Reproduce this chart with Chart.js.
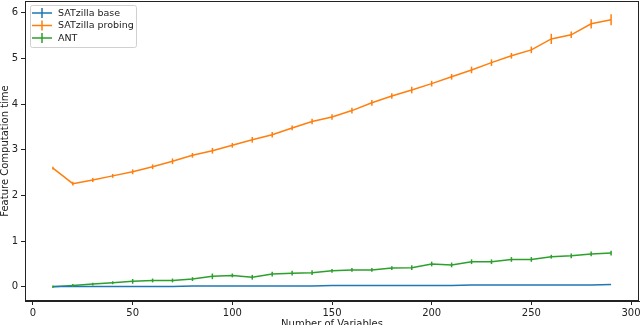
<!DOCTYPE html>
<html>
<head>
<meta charset="utf-8">
<script src="https://cdn.jsdelivr.net/npm/chart.js@4"></script>
<style>
  body { margin: 0; background: #fff; }
  canvas { display: block; }
</style>
</head>
<body>
<canvas id="grafico" width="640" height="325"></canvas>
<script>
// dados
const variaveis = [10, 20, 30, 40, 50, 60, 70, 80, 90, 100, 110, 120, 130, 140, 150,
  160, 170, 180, 190, 200, 210, 220, 230, 240, 250, 260, 270, 280, 290];

const baseValores = [0.01, 0.01, 0.01, 0.01, 0.01, 0.01, 0.01, 0.02, 0.02, 0.02, 0.02, 0.02, 0.02, 0.02, 0.03,
  0.03, 0.03, 0.03, 0.03, 0.03, 0.03, 0.04, 0.04, 0.04, 0.04, 0.04, 0.04, 0.04, 0.05];
const baseErros = [0, 0, 0, 0, 0, 0, 0, 0, 0, 0, 0, 0, 0, 0, 0,
  0, 0, 0, 0, 0, 0, 0, 0, 0, 0, 0, 0, 0, 0];

const probingValores = [2.6, 2.26, 2.34, 2.43, 2.52, 2.63, 2.75, 2.88, 2.98, 3.1, 3.22, 3.33, 3.48, 3.62, 3.72,
  3.86, 4.03, 4.18, 4.31, 4.45, 4.6, 4.75, 4.91, 5.06, 5.19, 5.43, 5.52, 5.76, 5.85];
const probingErros = [0.01, 0.02, 0.02, 0.02, 0.03, 0.03, 0.04, 0.03, 0.04, 0.03, 0.04, 0.04, 0.03, 0.04, 0.04,
  0.04, 0.04, 0.04, 0.05, 0.04, 0.04, 0.05, 0.05, 0.04, 0.05, 0.09, 0.05, 0.08, 0.1];

const antValores = [0.0, 0.03, 0.06, 0.09, 0.12, 0.14, 0.14, 0.17, 0.23, 0.25, 0.21, 0.28, 0.3, 0.31, 0.35,
  0.37, 0.37, 0.41, 0.42, 0.5, 0.48, 0.55, 0.55, 0.6, 0.6, 0.66, 0.68, 0.72, 0.74];
const antErros = [0.005, 0.01, 0.01, 0.01, 0.03, 0.02, 0.02, 0.02, 0.04, 0.02, 0.03, 0.03, 0.03, 0.03, 0.02,
  0.02, 0.02, 0.02, 0.03, 0.03, 0.03, 0.03, 0.03, 0.03, 0.03, 0.02, 0.03, 0.03, 0.03];

const ticksX = [0, 50, 100, 150, 200, 250, 300];
const ticksY = [0, 1, 2, 3, 4, 5, 6];
const nomesSeries = ['SATzilla base', 'SATzilla probing', 'ANT'];

const cores = ['#1f77b4', '#ff7f0e', '#2ca02c'];
const fonte = 'DejaVu Sans';

const pontos = (vals) => variaveis.map((x, i) => ({ x: x, y: vals[i] }));

// barras de erro verticais
const pluginErros = {
  id: 'barrasErro',
  afterDatasetsDraw(chart) {
    const ctx = chart.ctx;
    const sx = chart.scales.x, sy = chart.scales.y;
    chart.data.datasets.forEach((ds) => {
      ctx.save();
      ctx.strokeStyle = ds.borderColor;
      ctx.lineWidth = 1.5;
      ds.data.forEach((p, i) => {
        const e = ds.erros[i];
        if (!e) return;
        const px = sx.getPixelForValue(p.x);
        ctx.beginPath();
        ctx.moveTo(px, sy.getPixelForValue(p.y - e) + 1);
        ctx.lineTo(px, sy.getPixelForValue(p.y + e) - 1);
        ctx.stroke();
      });
      ctx.restore();
    });
  }
};

// moldura, títulos dos eixos e legenda
const pluginMoldura = {
  id: 'moldura',
  afterDraw(chart) {
    const ctx = chart.ctx;
    const a = chart.chartArea;
    ctx.save();
    ctx.strokeStyle = '#222';
    ctx.lineWidth = 1;
    ctx.strokeRect(a.left + 0.5, a.top + 0.5, a.right - a.left - 1, a.bottom - a.top - 1);

    ctx.fillStyle = '#222';
    ctx.font = '10px "' + fonte + '"';
    ctx.textAlign = 'center';
    ctx.textBaseline = 'middle';
    ctx.fillText('Number of Variables', (a.left + a.right) / 2, 324);

    ctx.save();
    ctx.translate(5, (a.top + a.bottom) / 2);
    ctx.rotate(-Math.PI / 2);
    ctx.fillText('Feature Computation time', 0, 0);
    ctx.restore();

    // legenda
    const lx = 30, ly = 5, lw = 106, lh = 42;
    ctx.font = '9.5px "' + fonte + '"';
    ctx.fillStyle = 'rgba(255,255,255,0.8)';
    ctx.strokeStyle = '#d0d0d0';
    ctx.beginPath();
    ctx.roundRect(lx + 0.5, ly + 0.5, lw, lh, 2);
    ctx.fill();
    ctx.stroke();
    chart.data.datasets.forEach((ds, i) => {
      const yy = 13 + i * 12.5;
      ctx.strokeStyle = ds.borderColor;
      ctx.lineWidth = 1.5;
      ctx.beginPath();
      ctx.moveTo(32, yy);
      ctx.lineTo(52, yy);
      ctx.moveTo(42, yy - 5);
      ctx.lineTo(42, yy + 5);
      ctx.stroke();
      ctx.fillStyle = '#222';
      ctx.textAlign = 'left';
      ctx.fillText(ds.label, 58, yy + 0.5);
    });
    ctx.restore();
  }
};

const semPadding = (s) => { s.paddingTop = 0; s.paddingBottom = 0; s.paddingLeft = 0; s.paddingRight = 0; };

new Chart(document.getElementById('grafico'), {
  type: 'line',
  data: {
    datasets: [
      { label: nomesSeries[0], data: pontos(baseValores), erros: baseErros, borderColor: cores[0] },
      { label: nomesSeries[1], data: pontos(probingValores), erros: probingErros, borderColor: cores[1] },
      { label: nomesSeries[2], data: pontos(antValores), erros: antErros, borderColor: cores[2] }
    ]
  },
  options: {
    responsive: false,
    animation: false,
    devicePixelRatio: 1,
    layout: { padding: { top: 1, right: 1, left: 0, bottom: 0 } },
    elements: {
      line: { borderWidth: 1.5, tension: 0 },
      point: { radius: 0 }
    },
    plugins: {
      legend: { display: false },
      tooltip: { enabled: false }
    },
    scales: {
      x: {
        type: 'linear',
        min: -4,
        max: 304,
        afterBuildTicks: (s) => { s.ticks = ticksX.map(v => ({ value: v })); },
        afterFit: (s) => { s.height = 24; semPadding(s); },
        grid: { display: true, drawOnChartArea: false, drawTicks: true, tickLength: 4, color: '#222' },
        border: { display: true, color: '#222' },
        ticks: { font: { family: fonte, size: 10 }, color: '#222', padding: 2, maxRotation: 0 }
      },
      y: {
        type: 'linear',
        min: -0.31,
        max: 6.26,
        afterBuildTicks: (s) => { s.ticks = ticksY.map(v => ({ value: v })); },
        afterFit: (s) => { s.width = 25; semPadding(s); },
        grid: { display: true, drawOnChartArea: false, drawTicks: true, tickLength: 4, color: '#222' },
        border: { display: true, color: '#222' },
        ticks: { font: { family: fonte, size: 10 }, color: '#222', padding: 3 }
      }
    }
  },
  plugins: [pluginErros, pluginMoldura]
});
</script>
</body>
</html>
